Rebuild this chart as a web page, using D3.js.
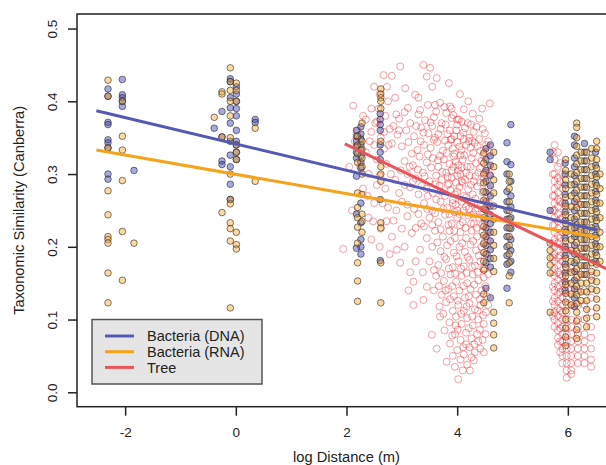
<!DOCTYPE html>
<html>
<head>
<meta charset="utf-8">
<script src="https://cdn.jsdelivr.net/npm/d3@7/dist/d3.min.js"></script>
<style>
    body { margin: 0; background: #fff; }
    text { font-family: "Liberation Sans", Arial, sans-serif; fill: #222; }
</style>
</head>
<body>
<div id="chart"></div>
<script>
// columns of points: [log distance, [similarities]]
const dnaCols = [
    [-2.31, [0.417, 0.407, 0.371, 0.368, 0.347, 0.343, 0.336, 0.300, 0.293]],
    [-2.05, [0.430, 0.409, 0.405, 0.400, 0.393]],
    [-1.84, [0.305]],
    [-0.39, [0.363]],
    [-0.25, [0.386, 0.351, 0.318, 0.313]],
    [-0.10, [0.431, 0.427, 0.405, 0.391, 0.370, 0.345, 0.326, 0.310, 0.286, 0.265]],
    [0.01, [0.420, 0.410, 0.400, 0.390, 0.380, 0.360, 0.345, 0.340, 0.330, 0.320]],
    [0.35, [0.375, 0.371]],
    [2.18, [0.360, 0.352, 0.345, 0.338, 0.330, 0.322, 0.297, 0.245, 0.198]],
    [2.26, [0.365, 0.355, 0.348, 0.340, 0.333, 0.325, 0.316, 0.308, 0.260, 0.233, 0.210, 0.200, 0.190]],
    [2.61, [0.383, 0.375, 0.368, 0.360, 0.340, 0.330, 0.320, 0.265, 0.181]],
    [4.52, [0.335, 0.320, 0.305, 0.290, 0.275, 0.262, 0.250, 0.238, 0.226, 0.214, 0.202, 0.190, 0.178, 0.143]],
    [4.60, [0.340, 0.325, 0.312, 0.298, 0.284, 0.270, 0.256, 0.244, 0.232, 0.220, 0.208, 0.196, 0.184, 0.172, 0.130]],
    [4.90, [0.343, 0.317, 0.300, 0.276, 0.262, 0.250, 0.238, 0.226, 0.214, 0.200, 0.188, 0.176, 0.143]],
    [4.97, [0.368, 0.313, 0.290, 0.270, 0.255, 0.240, 0.225, 0.210, 0.195, 0.180, 0.165]],
    [5.68, [0.330, 0.320, 0.250]],
    [5.95, [0.315, 0.300, 0.285, 0.272, 0.260, 0.248, 0.236, 0.224, 0.212, 0.200, 0.188, 0.176, 0.164, 0.152, 0.140]],
    [6.12, [0.352, 0.340, 0.322, 0.310, 0.298, 0.286, 0.274, 0.262, 0.250, 0.238, 0.226, 0.214, 0.202, 0.190, 0.178, 0.166, 0.154, 0.142, 0.130, 0.118]],
    [6.30, [0.342, 0.330, 0.318, 0.306, 0.294, 0.282, 0.270, 0.258, 0.246, 0.234, 0.222, 0.210, 0.198, 0.186, 0.174, 0.162]],
    [6.50, [0.330, 0.312, 0.300, 0.288, 0.276, 0.264, 0.252, 0.240, 0.228, 0.216, 0.204, 0.192, 0.180]]
];

const rnaCols = [
    [-2.31, [0.429, 0.407, 0.336, 0.277, 0.244, 0.214, 0.210, 0.205, 0.164, 0.123]],
    [-2.05, [0.400, 0.352, 0.333, 0.291, 0.221, 0.154]],
    [-1.84, [0.205]],
    [-0.39, [0.378]],
    [-0.25, [0.413, 0.410, 0.351, 0.247]],
    [-0.10, [0.446, 0.427, 0.415, 0.400, 0.380, 0.350, 0.300, 0.265, 0.259, 0.233, 0.225, 0.208, 0.116]],
    [0.01, [0.425, 0.415, 0.400, 0.340, 0.330, 0.320, 0.220, 0.203, 0.197]],
    [0.35, [0.363, 0.290]],
    [2.20, [0.352, 0.340, 0.328, 0.316, 0.274, 0.254, 0.240, 0.227, 0.205, 0.178, 0.153, 0.125]],
    [2.28, [0.370, 0.345, 0.334, 0.322, 0.310, 0.300, 0.272, 0.245, 0.235, 0.220]],
    [2.62, [0.417, 0.410, 0.405, 0.400, 0.390, 0.345, 0.310, 0.300, 0.290, 0.233, 0.226, 0.178, 0.123]],
    [4.48, [0.329, 0.315, 0.300, 0.288, 0.276, 0.264, 0.252, 0.240, 0.228, 0.216, 0.204, 0.192, 0.180, 0.168, 0.135, 0.123]],
    [4.66, [0.330, 0.310, 0.292, 0.274, 0.256, 0.238, 0.220, 0.202, 0.184, 0.166, 0.110, 0.095, 0.079, 0.061]],
    [4.94, [0.300, 0.290, 0.280, 0.262, 0.250, 0.238, 0.226, 0.214, 0.202, 0.190, 0.178, 0.160, 0.123]],
    [5.68, [0.205, 0.195, 0.185, 0.175, 0.164, 0.110]],
    [5.96, [0.320, 0.305, 0.292, 0.280, 0.268, 0.256, 0.244, 0.232, 0.220, 0.208, 0.196, 0.184, 0.172, 0.160, 0.148, 0.136, 0.124, 0.112, 0.100, 0.088, 0.076, 0.064]],
    [6.06, [0.300, 0.285, 0.270, 0.255, 0.240, 0.225, 0.210, 0.195, 0.180, 0.165, 0.150, 0.135, 0.120]],
    [6.16, [0.370, 0.364, 0.350, 0.338, 0.326, 0.314, 0.302, 0.290, 0.278, 0.266, 0.254, 0.242, 0.230, 0.218, 0.206, 0.194, 0.182, 0.170, 0.158, 0.146, 0.134, 0.122, 0.110, 0.098, 0.086, 0.074]],
    [6.24, [0.330, 0.318, 0.306, 0.294, 0.282, 0.270, 0.258, 0.246, 0.234, 0.222, 0.210, 0.198, 0.186, 0.174, 0.162, 0.150, 0.138, 0.126]],
    [6.34, [0.330, 0.318, 0.306, 0.294, 0.282, 0.270, 0.258, 0.246, 0.234, 0.222, 0.210, 0.198, 0.186, 0.174, 0.162, 0.150, 0.138, 0.126, 0.114, 0.102, 0.090]],
    [6.43, [0.335, 0.322, 0.310, 0.298, 0.286, 0.274, 0.262, 0.250, 0.238, 0.226, 0.214, 0.202, 0.190, 0.178, 0.166, 0.154, 0.142]],
    [6.52, [0.345, 0.335, 0.320, 0.308, 0.296, 0.284, 0.272, 0.260, 0.248, 0.236, 0.224, 0.212, 0.200, 0.188, 0.176, 0.164, 0.152, 0.140, 0.128, 0.116, 0.104]],
    [6.58, [0.300, 0.280, 0.260, 0.240, 0.220, 0.200, 0.180]]
];

// tree pairs spread between 2 and 4.6
const treeBlob = [
    [1.94, 0.197], [2.12, 0.394], [2.05, 0.310], [2.30, 0.280], [2.40, 0.300], [2.35, 0.330], [2.20, 0.360], [2.50, 0.420],
    [2.67, 0.436], [2.82, 0.435], [2.97, 0.448], [3.39, 0.450], [3.51, 0.446], [3.63, 0.432], [3.45, 0.434], [3.06, 0.418],
    [2.73, 0.420], [3.24, 0.409], [3.11, 0.391], [3.69, 0.398], [3.87, 0.393], [2.88, 0.405], [4.00, 0.375], [4.59, 0.397],
    [3.90, 0.390], [3.55, 0.420], [3.85, 0.425], [4.20, 0.400], [3.30, 0.405], [2.75, 0.400], [2.45, 0.390], [4.05, 0.410],
    [2.60, 0.410], [3.60, 0.395], [2.30, 0.380],
    [2.35, 0.375], [2.55, 0.372], [2.70, 0.380], [2.95, 0.376], [3.15, 0.370], [3.30, 0.382], [3.42, 0.374], [3.58, 0.378],
    [3.72, 0.370], [3.90, 0.377], [4.08, 0.372], [4.25, 0.368], [4.40, 0.376], [3.05, 0.385], [3.80, 0.384], [2.85, 0.366],
    [2.45, 0.358], [2.62, 0.350], [2.78, 0.362], [2.92, 0.354], [3.08, 0.360], [3.22, 0.352], [3.35, 0.364], [3.48, 0.356],
    [3.60, 0.350], [3.70, 0.362], [3.82, 0.355], [3.90, 0.348], [3.98, 0.360], [4.06, 0.352], [4.14, 0.363], [4.22, 0.350],
    [4.30, 0.358], [4.40, 0.348], [4.50, 0.356], [3.55, 0.366], [4.00, 0.368],
    [2.50, 0.340], [2.68, 0.335], [2.82, 0.342], [3.00, 0.338], [3.12, 0.344], [3.28, 0.333], [3.40, 0.340], [3.52, 0.336],
    [3.64, 0.344], [3.74, 0.332], [3.84, 0.340], [3.92, 0.335], [4.00, 0.344], [4.08, 0.333], [4.16, 0.340], [4.24, 0.336],
    [4.32, 0.343], [4.42, 0.332], [4.52, 0.340], [3.78, 0.346], [4.12, 0.348], [3.95, 0.328],
    [2.55, 0.320], [2.72, 0.314], [3.05, 0.318], [3.20, 0.312], [3.32, 0.324], [3.45, 0.316], [3.56, 0.322], [3.66, 0.310],
    [3.76, 0.320], [3.86, 0.314], [3.94, 0.324], [4.02, 0.312], [4.10, 0.320], [4.18, 0.310], [4.26, 0.322], [4.34, 0.315],
    [4.44, 0.318], [4.55, 0.310], [3.90, 0.305], [4.06, 0.326],
    [2.60, 0.298], [2.88, 0.292], [3.10, 0.300], [3.25, 0.294], [3.38, 0.302], [3.50, 0.290], [3.62, 0.298], [3.72, 0.292],
    [3.80, 0.302], [3.90, 0.295], [3.98, 0.288], [4.06, 0.300], [4.14, 0.292], [4.22, 0.298], [4.30, 0.290], [4.38, 0.302],
    [4.48, 0.294], [4.58, 0.300], [4.02, 0.305], [3.85, 0.287],
    [2.70, 0.280], [2.95, 0.274], [3.15, 0.282], [3.30, 0.272], [3.44, 0.280], [3.56, 0.274], [3.68, 0.284], [3.78, 0.270],
    [3.88, 0.278], [3.96, 0.272], [4.04, 0.282], [4.12, 0.270], [4.20, 0.279], [4.28, 0.272], [4.36, 0.283], [4.46, 0.275],
    [4.56, 0.280], [4.10, 0.288],
    [2.50, 0.260], [2.75, 0.254], [3.00, 0.262], [3.22, 0.252], [3.40, 0.260], [3.55, 0.250], [3.70, 0.262], [3.82, 0.254],
    [3.92, 0.260], [4.00, 0.250], [4.08, 0.262], [4.16, 0.255], [4.25, 0.260], [4.33, 0.250], [4.42, 0.258], [4.52, 0.252],
    [3.62, 0.265],
    [2.40, 0.240], [2.85, 0.236], [3.10, 0.242], [3.35, 0.232], [3.50, 0.240], [3.66, 0.234], [3.78, 0.244], [3.90, 0.232],
    [4.00, 0.240], [4.10, 0.234], [4.20, 0.243], [4.30, 0.232], [4.40, 0.240], [4.50, 0.235], [3.95, 0.248],
    [2.82, 0.214], [3.18, 0.219], [3.45, 0.212], [3.60, 0.222], [3.74, 0.214], [3.86, 0.222], [3.96, 0.212], [4.06, 0.220],
    [4.16, 0.212], [4.26, 0.222], [4.36, 0.214], [4.46, 0.220], [4.55, 0.210],
    [2.91, 0.196], [3.33, 0.196], [3.55, 0.200], [3.70, 0.194], [3.82, 0.202], [3.94, 0.192], [4.04, 0.200], [4.14, 0.193],
    [4.24, 0.203], [4.34, 0.195], [4.44, 0.200], [4.54, 0.190],
    [2.97, 0.178], [3.50, 0.180], [3.66, 0.175], [3.80, 0.183], [3.92, 0.172], [4.02, 0.180], [4.12, 0.173], [4.22, 0.182],
    [4.32, 0.174], [4.42, 0.180], [4.50, 0.170],
    [3.15, 0.165], [3.21, 0.152], [3.45, 0.145], [3.62, 0.160], [3.76, 0.153], [3.88, 0.162], [3.98, 0.152], [4.08, 0.160],
    [4.18, 0.150], [4.28, 0.162], [4.38, 0.154], [4.48, 0.158],
    [3.39, 0.127], [3.58, 0.140], [3.72, 0.134], [3.84, 0.142], [3.94, 0.132], [4.04, 0.140], [4.14, 0.130], [4.24, 0.142],
    [4.34, 0.134], [4.44, 0.140], [4.54, 0.132],
    [3.21, 0.120], [3.68, 0.118], [3.80, 0.124], [3.92, 0.112], [4.02, 0.120], [4.12, 0.112], [4.22, 0.122], [4.32, 0.114],
    [4.42, 0.120], [4.52, 0.110],
    [3.69, 0.104], [3.86, 0.096], [3.98, 0.104], [4.08, 0.094], [4.18, 0.102], [4.28, 0.092], [4.38, 0.100], [4.48, 0.094],
    [3.54, 0.079], [3.87, 0.067], [3.96, 0.080], [4.06, 0.072], [4.16, 0.082], [4.26, 0.074], [4.36, 0.080], [4.46, 0.072],
    [3.63, 0.060], [4.00, 0.058], [4.12, 0.052], [4.22, 0.062], [4.32, 0.055], [4.42, 0.060],
    [3.81, 0.042], [4.02, 0.018], [4.18, 0.038], [4.30, 0.044], [4.10, 0.030]
];

// second pass over the same blob, filling the denser parts
const treeBlobDense = [
    [3.33, 0.388], [3.47, 0.395], [3.62, 0.386], [3.77, 0.392], [3.93, 0.381], [4.12, 0.389], [4.28, 0.383], [4.45, 0.390],
    [3.26, 0.366], [3.39, 0.357], [3.52, 0.371], [3.66, 0.355], [3.79, 0.368], [3.87, 0.360], [3.95, 0.352], [4.03, 0.375],
    [4.11, 0.357], [4.19, 0.370], [4.27, 0.346], [4.35, 0.365], [4.46, 0.362], [4.56, 0.345],
    [3.18, 0.328], [3.34, 0.345], [3.47, 0.327], [3.58, 0.347], [3.69, 0.325], [3.81, 0.329], [3.88, 0.347], [3.97, 0.317],
    [4.04, 0.338], [4.13, 0.326], [4.21, 0.345], [4.29, 0.329], [4.37, 0.338], [4.47, 0.326], [4.58, 0.330],
    [2.98, 0.305], [3.14, 0.310], [3.29, 0.306], [3.41, 0.297], [3.53, 0.309], [3.65, 0.319], [3.73, 0.303], [3.83, 0.296],
    [3.93, 0.310], [4.00, 0.298], [4.08, 0.309], [4.16, 0.302], [4.24, 0.310], [4.33, 0.297], [4.41, 0.308], [4.51, 0.302],
    [3.05, 0.285], [3.20, 0.290], [3.36, 0.284], [3.47, 0.270], [3.60, 0.286], [3.70, 0.276], [3.83, 0.285], [3.92, 0.264],
    [4.00, 0.276], [4.08, 0.290], [4.16, 0.268], [4.25, 0.285], [4.33, 0.266], [4.42, 0.288], [4.52, 0.266],
    [2.90, 0.250], [3.10, 0.258], [3.30, 0.245], [3.46, 0.252], [3.60, 0.246], [3.75, 0.252], [3.86, 0.245], [3.97, 0.258],
    [4.04, 0.245], [4.12, 0.250], [4.21, 0.252], [4.29, 0.244], [4.37, 0.253], [4.47, 0.245], [4.57, 0.260],
    [3.25, 0.226], [3.40, 0.228], [3.55, 0.230], [3.70, 0.224], [3.84, 0.230], [3.95, 0.222], [4.05, 0.230], [4.15, 0.226],
    [4.25, 0.232], [4.35, 0.226], [4.45, 0.230], [4.56, 0.224],
    [3.64, 0.206], [3.77, 0.186], [3.88, 0.208], [3.99, 0.187], [4.09, 0.205], [4.19, 0.186], [4.29, 0.208], [4.39, 0.188],
    [4.49, 0.206], [3.58, 0.168], [3.71, 0.164], [3.85, 0.170], [3.96, 0.163], [4.07, 0.170], [4.17, 0.164], [4.27, 0.172],
    [4.37, 0.165], [4.47, 0.170], [4.56, 0.162], [3.67, 0.146], [3.79, 0.140], [3.91, 0.146], [4.01, 0.126], [4.11, 0.146],
    [4.21, 0.132], [4.31, 0.148], [4.41, 0.128], [4.51, 0.146], [3.75, 0.108], [3.87, 0.128], [3.97, 0.092], [4.07, 0.108],
    [4.17, 0.118], [4.27, 0.104], [4.37, 0.112], [4.47, 0.106], [4.56, 0.120], [3.77, 0.085], [3.91, 0.078], [4.01, 0.086],
    [4.11, 0.062], [4.21, 0.088], [4.31, 0.066], [4.41, 0.086], [4.51, 0.080], [3.92, 0.050], [4.06, 0.045], [4.16, 0.066],
    [4.26, 0.048], [4.38, 0.070], [4.48, 0.055], [4.23, 0.030], [3.96, 0.035],
    [2.15, 0.345], [2.25, 0.310], [2.42, 0.345], [2.52, 0.370], [2.58, 0.390], [2.68, 0.358], [2.76, 0.340], [2.90, 0.382],
    [2.95, 0.360], [2.38, 0.270], [2.55, 0.285], [2.65, 0.260], [2.80, 0.300], [2.48, 0.235], [2.62, 0.225], [2.72, 0.235],
    [2.10, 0.250], [2.60, 0.200], [2.78, 0.190], [2.45, 0.210], [3.00, 0.225], [3.05, 0.200], [3.25, 0.180], [3.38, 0.165],
    [3.12, 0.140]
];

// tree columns near log distance 6
const treeCols = [
    [5.73, [0.330, 0.300, 0.270, 0.250, 0.230, 0.205, 0.185, 0.165, 0.145, 0.125, 0.105]],
    [5.76, [0.340, 0.320, 0.300, 0.290, 0.280, 0.270, 0.260, 0.250, 0.240, 0.230, 0.220, 0.210, 0.200, 0.190, 0.180, 0.170, 0.160, 0.150, 0.140, 0.130, 0.120, 0.110, 0.100, 0.090]],
    [5.82, [0.330, 0.310, 0.295, 0.285, 0.275, 0.265, 0.255, 0.245, 0.235, 0.225, 0.215, 0.205, 0.195, 0.185, 0.175, 0.165, 0.155, 0.145, 0.135, 0.125, 0.115, 0.105, 0.095, 0.085, 0.075, 0.065]],
    [5.86, [0.315, 0.290, 0.262, 0.238, 0.212, 0.188, 0.162, 0.138, 0.112, 0.088, 0.070, 0.055]],
    [5.90, [0.300, 0.280, 0.260, 0.240, 0.220, 0.200, 0.180, 0.160, 0.150, 0.140, 0.130, 0.120, 0.110, 0.100, 0.090, 0.080, 0.070, 0.060, 0.050, 0.040]],
    [5.98, [0.250, 0.220, 0.190, 0.170, 0.150, 0.130, 0.120, 0.110, 0.100, 0.090, 0.080, 0.070, 0.060, 0.050, 0.040, 0.030, 0.020]],
    [6.06, [0.200, 0.170, 0.140, 0.120, 0.100, 0.090, 0.080, 0.070, 0.060, 0.050, 0.040, 0.030, 0.025]],
    [6.18, [0.260, 0.220, 0.190, 0.160, 0.140, 0.120, 0.100, 0.090, 0.080, 0.070, 0.060, 0.050, 0.040]],
    [6.30, [0.200, 0.170, 0.140, 0.120, 0.100, 0.080, 0.070, 0.060, 0.050, 0.040]],
    [6.42, [0.160, 0.130, 0.110, 0.090, 0.075, 0.060, 0.045, 0.035]]
];

// fitted lines: [x0, x1], [y0, y1]
const seriesNames = ["Bacteria (DNA)", "Bacteria (RNA)", "Tree"];
const fitX = [[-2.52, 6.53], [-2.52, 6.53], [1.97, 6.72]];
const fitY = [[0.387, 0.223], [0.333, 0.213], [0.3415, 0.169]];

const xTicks = [-2, 0, 2, 4, 6];
const yTicks = [0.0, 0.1, 0.2, 0.3, 0.4, 0.5];

class ScatterChart {
    constructor(_parentElement) {
        this.parentElement = _parentElement;
        this.initVis();
    }

    initVis() {
        const vis = this;
        vis.width = 606;
        vis.height = 465;
        vis.plot = { LEFT: 77, RIGHT: 616, TOP: 14, BOTTOM: 406.7 };

        vis.svg = d3.select(vis.parentElement).append("svg")
            .attr("width", vis.width)
            .attr("height", vis.height);

        vis.x = d3.scaleLinear()
            .domain([-2.87, 6.87])
            .range([vis.plot.LEFT, vis.plot.RIGHT]);

        vis.y = d3.scaleLinear()
            .domain([-0.0198, 0.52])
            .range([vis.plot.BOTTOM, vis.plot.TOP]);

        const flat = cols => cols.flatMap(([x, ys]) => ys.map(y => ({ x: x, y: y })));
        const pairs = list => list.map(([x, y]) => ({ x: x, y: y }));
        vis.dna = flat(dnaCols);
        vis.rna = flat(rnaCols);
        vis.tree = pairs(treeBlob).concat(pairs(treeBlobDense), flat(treeCols));

        vis.lineColors = ["#5559b5", "#f6a31c", "#e8555a"];
        vis.drawPoints();
        vis.drawAxes();
        vis.drawLegend();
    }

    drawPoints() {
        const vis = this;
        const g = vis.svg.append("g");

        g.selectAll("circle.dna")
            .data(vis.dna)
            .enter().append("circle")
            .attr("class", "dna")
            .attr("cx", d => vis.x(d.x))
            .attr("cy", d => vis.y(d.y))
            .attr("r", 3.3)
            .attr("fill", "rgba(57,66,182,0.45)")
            .attr("stroke", "rgba(40,40,40,0.6)")
            .attr("stroke-width", 1);

        g.selectAll("circle.rna")
            .data(vis.rna)
            .enter().append("circle")
            .attr("class", "rna")
            .attr("cx", d => vis.x(d.x))
            .attr("cy", d => vis.y(d.y))
            .attr("r", 3.3)
            .attr("fill", "rgba(245,160,20,0.4)")
            .attr("stroke", "rgba(40,40,40,0.6)")
            .attr("stroke-width", 1);

        g.selectAll("circle.tree")
            .data(vis.tree)
            .enter().append("circle")
            .attr("class", "tree")
            .attr("cx", d => vis.x(d.x))
            .attr("cy", d => vis.y(d.y))
            .attr("r", 3.5)
            .attr("fill", "none")
            .attr("stroke", "rgba(228,30,35,0.42)")
            .attr("stroke-width", 1);

        // fitted lines
        fitX.forEach((xs, i) => {
            g.append("line")
                .attr("x1", vis.x(xs[0]))
                .attr("x2", vis.x(xs[1]))
                .attr("y1", vis.y(fitY[i][0]))
                .attr("y2", vis.y(fitY[i][1]))
                .attr("stroke", vis.lineColors[i])
                .attr("stroke-width", 3);
        });
    }

    drawAxes() {
        const vis = this;

        // box
        vis.svg.append("rect")
            .attr("x", vis.plot.LEFT)
            .attr("y", vis.plot.TOP)
            .attr("width", vis.plot.RIGHT - vis.plot.LEFT)
            .attr("height", vis.plot.BOTTOM - vis.plot.TOP)
            .attr("fill", "none")
            .attr("stroke", "#222")
            .attr("stroke-width", 1.5);

        // X Axis
        const xAxisCall = d3.axisBottom(vis.x)
            .tickValues(xTicks)
            .tickSize(9)
            .tickFormat(d => String(d));
        const xg = vis.svg.append("g")
            .attr("transform", `translate(0, ${vis.plot.BOTTOM})`)
            .call(xAxisCall);
        xg.select(".domain").remove();
        xg.selectAll("line").attr("stroke", "#222").attr("stroke-width", 1.5);
        xg.selectAll("text")
            .attr("y", 21)
            .attr("font-size", "13.5px")
            .attr("font-family", "Liberation Sans, Arial, sans-serif")
            .attr("fill", "#222");

        // Y Axis
        const yAxisCall = d3.axisLeft(vis.y)
            .tickValues(yTicks)
            .tickSize(9)
            .tickFormat(d3.format(".1f"));
        const yg = vis.svg.append("g")
            .attr("transform", `translate(${vis.plot.LEFT}, 0)`)
            .call(yAxisCall);
        yg.select(".domain").remove();
        yg.selectAll("line").attr("stroke", "#222").attr("stroke-width", 1.5);
        yg.selectAll("text")
            .attr("x", null)
            .attr("dy", null)
            .attr("text-anchor", "middle")
            .attr("transform", "translate(-20, 0) rotate(-90)")
            .attr("font-size", "13.5px")
            .attr("font-family", "Liberation Sans, Arial, sans-serif")
            .attr("fill", "#222");

        // X label
        vis.svg.append("text")
            .attr("x", (vis.plot.LEFT + vis.plot.RIGHT) / 2)
            .attr("y", 462)
            .attr("font-size", "14.7px")
            .attr("text-anchor", "middle")
            .text("log Distance (m)");

        // Y label
        vis.svg.append("text")
            .attr("transform", `translate(24, ${(vis.plot.TOP + vis.plot.BOTTOM) / 2}) rotate(-90)`)
            .attr("font-size", "14.7px")
            .attr("text-anchor", "middle")
            .text("Taxonomic Similarity (Canberra)");
    }

    drawLegend() {
        const vis = this;
        const lg = vis.svg.append("g");
        lg.append("rect")
            .attr("x", 92)
            .attr("y", 319.5)
            .attr("width", 170)
            .attr("height", 64.5)
            .attr("fill", "#e5e5e5")
            .attr("stroke", "#555")
            .attr("stroke-width", 1.5);

        seriesNames.forEach((name, i) => {
            const yy = 336 + i * 15.7;
            lg.append("line")
                .attr("x1", 105).attr("x2", 134)
                .attr("y1", yy).attr("y2", yy)
                .attr("stroke", vis.lineColors[i])
                .attr("stroke-width", 3);
            lg.append("text")
                .attr("x", 147)
                .attr("y", yy + 5.2)
                .attr("font-size", "14.5px")
                .text(name);
        });
    }
}

new ScatterChart("#chart");
</script>
</body>
</html>
